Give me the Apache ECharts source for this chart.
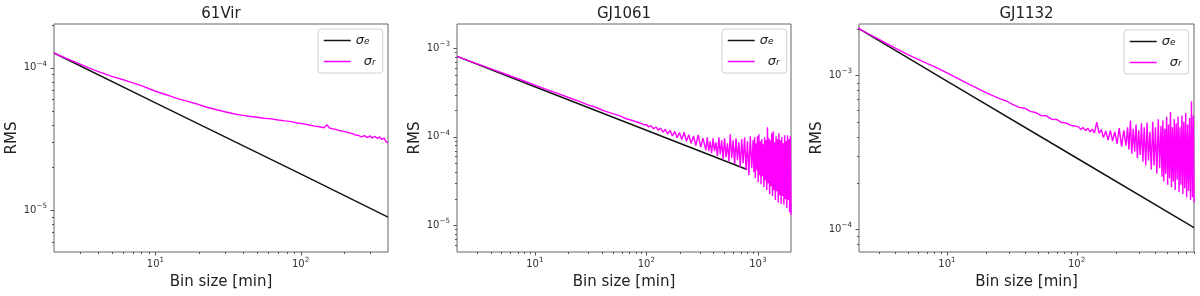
<!DOCTYPE html>
<html>
<head>
<meta charset="utf-8">
<script src="https://cdn.jsdelivr.net/npm/echarts@6/dist/echarts.min.js"></script>
<style>
html,body{margin:0;padding:0;background:#fff;}
#c{width:1200px;height:296px;}
</style>
</head>
<body>
<div id="c"></div>
<script>
// ---------- data ----------
const titles = ['61Vir', 'GJ1061', 'GJ1132'];

// 61Vir
const vir_x = [2,2.5,3,3.5,4,5,6,7,8,10,12,14,16,19,22,26,30,34,39,44,50,56,63,70,78,86,95,105,115,125,135,145,152,158,165,175,185,195,205,215,225,238,250,262,275,288,300,312,325,338,350,362,375,388,400];
const vir_r = [1.27e-4,1.15e-4,1.065e-4,9.95e-5,9.45e-5,8.7e-5,8.25e-5,7.85e-5,7.5e-5,6.85e-5,6.45e-5,6.1e-5,5.88e-5,5.6e-5,5.33e-5,5.1e-5,4.92e-5,4.78e-5,4.66e-5,4.57e-5,4.5e-5,4.43e-5,4.38e-5,4.3e-5,4.24e-5,4.19e-5,4.1e-5,4.04e-5,3.97e-5,3.9e-5,3.86e-5,3.8e-5,3.98e-5,3.78e-5,3.74e-5,3.7e-5,3.62e-5,3.6e-5,3.55e-5,3.5e-5,3.47e-5,3.38e-5,3.36e-5,3.28e-5,3.34e-5,3.24e-5,3.33e-5,3.22e-5,3.3e-5,3.2e-5,3.28e-5,3.14e-5,3.22e-5,3.02e-5,2.98e-5];
const vir_ex = [2, 10, 100, 400];
const vir_e = [1.27e-4, 5.68e-5, 1.80e-5, 8.95e-6];

// GJ1061
const gj1061_x = [2,3,4,5,6,8,10,13,16,20,25,30,36,43,50,58,66,75,85,95,
100,105,110,116,122,128,134,141,148,155,163,171,180,189,198,208,218,229,240,252,265,278,292,307,322,
332,342,352,363,374,385,397,409,421,434,447,460,474,488,503,518,534,550,566,583,601,619,637,656,676,696,717,739,761,784,807,831,856,882,
908,922,936,950,964,978,993,1008,1022,1038,1053,1069,1085,1101,1117,1134,1151,1168,1185,1203,1221,1239,1257,1276,1295,1314,1334,1354,1374,1395,1415,1437,1458,1480,1501,1524,1546,1569,1593,1617,1641,1665,1690,1715,1740,1766,1793,1820,1846,1874,1902,1930,1959,1985];
const gj1061_r = [8.1e-4,6.7e-4,5.88e-4,5.32e-4,4.89e-4,4.27e-4,3.84e-4,3.39e-4,3.09e-4,2.78e-4,2.51e-4,2.29e-4,2.13e-4,1.94e-4,1.83e-4,1.72e-4,1.60e-4,1.53e-4,1.45e-4,1.37e-4,
1.373e-4,1.295e-4,1.335e-4,1.232e-4,1.292e-4,1.183e-4,1.257e-4,1.128e-4,1.219e-4,1.076e-4,1.183e-4,1.023e-4,1.152e-4,9.77e-5,1.118e-4,9.31e-5,1.125e-4,8.88e-5,1.054e-4,8.47e-5,1.021e-4,7.98e-5,1.05e-4,7.63e-5,9.67e-5,
9.37e-5,7.05e-5,9.87e-5,6.87e-5,8.90e-5,6.52e-5,9.62e-5,6.87e-5,8.67e-5,6.03e-5,9.87e-5,6.35e-5,9.13e-5,5.58e-5,9.62e-5,5.88e-5,8.45e-5,5.30e-5,1.067e-4,5.73e-5,9.13e-5,4.90e-5,9.62e-5,5.44e-5,8.67e-5,4.53e-5,9.37e-5,5.03e-5,9.87e-5,4.20e-5,8.90e-5,3.68e-5,1.013e-4,4.42e-5,
9.13e-5,3.98e-5,9.87e-5,3.41e-5,8.45e-5,4.20e-5,1.013e-4,3.07e-5,1.067e-4,3.68e-5,8.90e-5,2.92e-5,9.37e-5,3.59e-5,8.23e-5,2.70e-5,9.87e-5,3.24e-5,9.13e-5,2.50e-5,1.279e-4,2.99e-5,9.62e-5,2.25e-5,9.13e-5,2.77e-5,1.095e-4,2.14e-5,1.153e-4,2.50e-5,8.67e-5,1.93e-5,1.013e-4,2.43e-5,9.37e-5,1.80e-5,1.095e-4,2.19e-5,9.13e-5,1.74e-5,9.87e-5,2.14e-5,8.45e-5,1.71e-5,1.039e-4,1.98e-5,8.90e-5,1.57e-5,1.039e-4,1.93e-5,9.37e-5,1.41e-5,1.013e-4,1.31e-5];
const gj1061_ex = [2, 10, 100, 800];
const gj1061_e = [8.1e-4, 3.67e-4, 1.186e-4, 4.28e-5];

// GJ1132
const gj1132_x = [2,2.5,3,3.5,4,5,6,7,8,10,12,14,16,18,20,23,26,29,32,36,40,44,48,53,58,64,70,76,83,90,97,
104,108,112,117,122,127,132,137,143,149,155,161,168,175,182,189,197,205,213,222,231,240,
247,253,260,266,273,280,287,294,301,309,316,324,332,341,349,358,367,376,386,395,405,415,426,436,
447,455,462,470,478,486,494,503,511,520,529,538,547,556,566,575,585,595,605,616,626,637,648,659,670,682,693,705,717,730,742,755,768,781,794,803];
const gj1132_r = [2.06e-3,1.86e-3,1.714e-3,1.60e-3,1.506e-3,1.366e-3,1.271e-3,1.199e-3,1.142e-3,1.04e-3,9.62e-4,8.98e-4,8.51e-4,8.09e-4,7.74e-4,7.34e-4,7.02e-4,6.8e-4,6.48e-4,6.2e-4,6.12e-4,5.85e-4,5.75e-4,5.5e-4,5.48e-4,5.2e-4,5.18e-4,4.95e-4,4.92e-4,4.74e-4,4.7e-4,
4.62e-4,4.45e-4,4.6e-4,4.38e-4,4.55e-4,4.3e-4,4.48e-4,4.22e-4,4.98e-4,4.2e-4,4.45e-4,3.95e-4,4.35e-4,3.8e-4,4.4e-4,3.75e-4,4.3e-4,3.6e-4,4.55e-4,3.45e-4,4.4e-4,3.5e-4,
4.6e-4,3.3e-4,5.1e-4,3.1e-4,4.5e-4,3.2e-4,4.8e-4,2.9e-4,4.4e-4,3.05e-4,4.9e-4,2.75e-4,4.6e-4,2.6e-4,4.95e-4,2.8e-4,4.3e-4,2.45e-4,5.0e-4,2.6e-4,4.6e-4,2.3e-4,5.2e-4,2.5e-4,
4.7e-4,2.2e-4,5.1e-4,2.05e-4,4.5e-4,2.3e-4,5.4e-4,1.95e-4,4.8e-4,2.15e-4,5.8e-4,1.88e-4,4.6e-4,2.05e-4,5.2e-4,1.8e-4,4.9e-4,2.1e-4,5.4e-4,1.75e-4,4.6e-4,1.95e-4,5.5e-4,1.7e-4,5.0e-4,1.85e-4,5.7e-4,1.62e-4,4.8e-4,1.78e-4,5.3e-4,1.55e-4,6.8e-4,1.62e-4,5.5e-4,1.5e-4];
const gj1132_ex = [2, 10, 100, 803];
const gj1132_e = [2.06e-3, 9.2e-4, 2.91e-4, 1.027e-4];

// axis ranges
const xRanges = [[2, 400], [2, 1985], [2.1, 803]];
const yRanges = [[5.1e-6, 2.03e-4], [5.0e-6, 1.88e-3], [7.13e-5, 2.16e-3]];

// ---------- layout ----------
const FONT = 'DejaVu Sans';
const lefts = [54, 457, 859];
const widths = [334, 334, 335];
const TOP = 24, HEIGHT = 228;
const legendPos = [[318, 29], [722, 29], [1124, 30]];

const sets = [
  {x: vir_x, r: vir_r, ex: vir_ex, e: vir_e},
  {x: gj1061_x, r: gj1061_r, ex: gj1061_ex, e: gj1061_e},
  {x: gj1132_x, r: gj1132_r, ex: gj1132_ex, e: gj1132_e}
];

function zip(a, b) { return a.map((v, i) => [v, b[i]]); }

function fmtLog(v) {
  const L = Math.log10(v), e = Math.round(L);
  if (Math.abs(L - e) > 1e-6) return '';
  return '{b|10}{e|' + (e < 0 ? '\u2212' + (-e) : String(e)) + '}';
}
const labelRich = {
  b: {fontSize: 10, fontFamily: FONT, color: '#333', lineHeight: 15},
  e: {fontSize: 7.2, fontFamily: FONT, color: '#333', lineHeight: 7, verticalAlign: 'top'}
};

function tickData(xr, yr) {
  const d = [];
  const add = (lo, hi, f) => {
    for (let k = Math.floor(Math.log10(lo)); k <= Math.ceil(Math.log10(hi)); k++) {
      for (let m = 1; m <= 9; m++) {
        const v = m * Math.pow(10, k);
        if (v > lo * 1.0001 && v < hi * 0.9999) f(v, m === 1);
      }
    }
  };
  add(xr[0], xr[1], (v, maj) => d.push([v, yr[0], maj ? 1 : 0]));
  add(yr[0], yr[1], (v, maj) => d.push([xr[0], v, maj ? 3 : 2]));
  return d;
}

const grid = [], xAxis = [], yAxis = [], series = [], legend = [], graphic = [];
for (let i = 0; i < 3; i++) {
  grid.push({left: lefts[i], top: TOP, width: widths[i], height: HEIGHT, show: true,
    borderColor: '#666', borderWidth: 1, backgroundColor: 'transparent', containLabel: false});
  xAxis.push({type: 'log', logBase: 10, gridIndex: i, min: xRanges[i][0], max: xRanges[i][1],
    name: 'Bin size [min]', nameLocation: 'middle', nameGap: 19,
    nameTextStyle: {fontSize: 15, fontFamily: FONT, color: '#222'},
    axisLine: {show: false}, axisTick: {show: false}, splitLine: {show: false}, minorTick: {show: false},
    axisLabel: {formatter: fmtLog, margin: 5, rich: labelRich, hideOverlap: false}});
  yAxis.push({type: 'log', logBase: 10, gridIndex: i, min: yRanges[i][0], max: yRanges[i][1],
    name: 'RMS', nameLocation: 'middle', nameGap: 34,
    nameTextStyle: {fontSize: 15, fontFamily: FONT, color: '#222'},
    axisLine: {show: false}, axisTick: {show: false}, splitLine: {show: false}, minorTick: {show: false},
    axisLabel: {formatter: fmtLog, margin: 7, rich: labelRich, hideOverlap: false}});
  const s = sets[i];
  series.push({name: 'σe', type: 'line', xAxisIndex: i, yAxisIndex: i, data: zip(s.ex, s.e),
    symbol: 'none', showSymbol: false, lineStyle: {color: '#141414', width: 1.5}, itemStyle: {color: '#141414'},
    animation: false, z: 2});
  series.push({name: 'σr', type: 'line', xAxisIndex: i, yAxisIndex: i, data: zip(s.x, s.r),
    symbol: 'none', showSymbol: false, lineStyle: {color: '#ff00ff', width: 1.4}, itemStyle: {color: '#ff00ff'},
    animation: false, z: 3});
  series.push({type: 'custom', xAxisIndex: i, yAxisIndex: i, data: tickData(xRanges[i], yRanges[i]),
    encode: {x: 0, y: 1}, clip: false, silent: true, animation: false, z: 5,
    renderItem: function (params, api) {
      const kind = api.value(2);
      const pt = api.coord([api.value(0), api.value(1)]);
      const len = (kind === 1 || kind === 3) ? 3.5 : 2;
      let shape;
      if (kind < 2) {
        const x = Math.round(pt[0]) + 0.5, y = Math.round(pt[1]);
        shape = {x1: x, y1: y, x2: x, y2: y + len};
      } else {
        const y = Math.round(pt[1]) + 0.5, x = Math.round(pt[0]);
        shape = {x1: x - len, y1: y, x2: x, y2: y};
      }
      return {type: 'line', shape: shape, style: {stroke: '#555', lineWidth: 1}};
    }});
  legend.push({data: ['σe', 'σr'], left: legendPos[i][0], top: legendPos[i][1], orient: 'vertical',
    itemWidth: 27, itemHeight: 12, itemGap: 8, padding: [5, 7, 5, 5],
    itemStyle: {opacity: 0, borderWidth: 0},
    lineStyle: {width: 1.5},
    backgroundColor: 'rgba(255,255,255,0.85)', borderColor: '#d0d0d0', borderWidth: 1, borderRadius: 3,
    selectedMode: false,
    formatter: function (name) { return name === 'σe' ? '{s|σ}{u|e}' : '{p|σ}{u|r}'; },
    textStyle: {color: '#222', rich: {
      s: {fontSize: 13, fontStyle: 'italic', fontFamily: FONT, lineHeight: 12},
      p: {fontSize: 13, fontStyle: 'italic', fontFamily: FONT, lineHeight: 12, padding: [0, 0, 0, 8]},
      u: {fontSize: 9, fontStyle: 'italic', fontFamily: FONT, lineHeight: 6, verticalAlign: 'bottom'}
    }}});
  graphic.push({type: 'text', x: lefts[i] + widths[i] / 2, y: 14, silent: true,
    style: {text: titles[i], fontSize: 15, fontFamily: FONT, fill: '#222', textAlign: 'center', textVerticalAlign: 'middle'}});
}

const chart = echarts.init(document.getElementById('c'), null, {renderer: 'canvas'});
chart.setOption({animation: false, backgroundColor: '#fff', grid, xAxis, yAxis, series, legend, graphic});
</script>
</body>
</html>
